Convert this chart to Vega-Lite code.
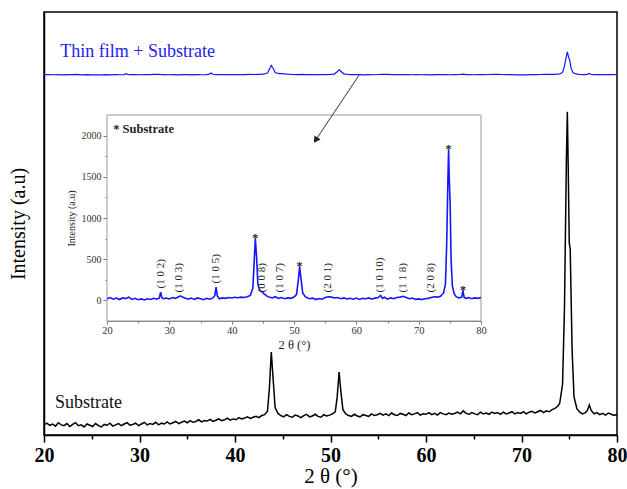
{
  "$schema": "https://vega.github.io/schema/vega-lite/v6.json",
  "width": 573,
  "height": 423,
  "autosize": "none",
  "padding": {"left": 44, "top": 12, "right": 10, "bottom": 54},
  "background": "white",
  "config": {
    "view": {"stroke": "black", "strokeWidth": 1.5},
    "axis": {"grid": false, "labelFont": "Liberation Serif", "titleFont": "Liberation Serif", "labelFlush": false},
    "text": {"font": "Liberation Serif"}
  },
  "datasets": {
    "film": [
      {"t":20.0,"i":20},{"t":20.5,"i":35},{"t":21.0,"i":15},{"t":21.5,"i":28},{"t":22.0,"i":10},{"t":22.5,"i":30},{"t":23.0,"i":22},{"t":23.5,"i":40},{"t":24.0,"i":12},{"t":24.5,"i":25},
      {"t":25.0,"i":8},{"t":25.5,"i":18},{"t":26.0,"i":5},{"t":26.5,"i":20},{"t":27.0,"i":12},{"t":27.5,"i":25},{"t":28.0,"i":15},{"t":28.4,"i":30},{"t":28.6,"i":100},{"t":28.8,"i":35},
      {"t":29.0,"i":20},{"t":29.5,"i":28},{"t":30.0,"i":18},{"t":30.5,"i":35},{"t":31.0,"i":25},{"t":31.5,"i":45},{"t":31.8,"i":55},{"t":32.1,"i":40},{"t":32.5,"i":30},{"t":33.0,"i":15},
      {"t":33.5,"i":28},{"t":34.0,"i":12},{"t":34.5,"i":30},{"t":35.0,"i":20},{"t":35.5,"i":8},{"t":36.0,"i":25},{"t":36.5,"i":15},{"t":37.0,"i":30},{"t":37.3,"i":60},{"t":37.5,"i":160},
      {"t":37.7,"i":55},{"t":38.0,"i":20},{"t":38.5,"i":30},{"t":39.0,"i":25},{"t":39.5,"i":35},{"t":40.0,"i":30},{"t":40.5,"i":38},{"t":41.0,"i":32},{"t":41.5,"i":40},{"t":42.0,"i":35},
      {"t":42.5,"i":45},{"t":43.0,"i":60},{"t":43.4,"i":150},{"t":43.6,"i":450},{"t":43.8,"i":750},{"t":44.0,"i":520},{"t":44.2,"i":200},{"t":44.5,"i":120},{"t":44.8,"i":110},{"t":45.2,"i":80},
      {"t":45.6,"i":55},{"t":46.0,"i":40},{"t":46.5,"i":30},{"t":47.0,"i":45},{"t":47.5,"i":25},{"t":48.0,"i":35},{"t":48.5,"i":20},{"t":49.0,"i":30},{"t":49.5,"i":25},{"t":50.0,"i":40},
      {"t":50.4,"i":70},{"t":50.7,"i":250},{"t":50.9,"i":410},{"t":51.1,"i":280},{"t":51.4,"i":90},{"t":51.8,"i":45},{"t":52.2,"i":30},{"t":52.5,"i":20},{"t":53.0,"i":28},{"t":53.5,"i":10},
      {"t":54.0,"i":22},{"t":54.5,"i":15},{"t":55.0,"i":35},{"t":55.5,"i":45},{"t":56.0,"i":40},{"t":56.5,"i":30},{"t":57.0,"i":35},{"t":57.5,"i":20},{"t":58.0,"i":30},{"t":58.5,"i":18},
      {"t":59.0,"i":25},{"t":59.5,"i":15},{"t":60.0,"i":28},{"t":60.5,"i":12},{"t":61.0,"i":25},{"t":61.5,"i":20},{"t":62.0,"i":30},{"t":62.5,"i":15},{"t":63.0,"i":28},{"t":63.5,"i":35},
      {"t":63.9,"i":60},{"t":64.2,"i":25},{"t":64.5,"i":38},{"t":65.0,"i":15},{"t":65.5,"i":30},{"t":66.0,"i":20},{"t":66.5,"i":35},{"t":67.0,"i":40},{"t":67.5,"i":50},{"t":68.0,"i":35},
      {"t":68.5,"i":20},{"t":69.0,"i":28},{"t":69.5,"i":12},{"t":70.0,"i":18},{"t":70.5,"i":10},{"t":71.0,"i":20},{"t":71.5,"i":25},{"t":72.0,"i":35},{"t":72.5,"i":45},{"t":73.0,"i":40},
      {"t":73.5,"i":50},{"t":74.0,"i":90},{"t":74.3,"i":200},{"t":74.5,"i":700},{"t":74.7,"i":1500},{"t":74.8,"i":1830},{"t":74.9,"i":1500},{"t":75.05,"i":1170},{"t":75.2,"i":500},{"t":75.4,"i":180},
      {"t":75.7,"i":80},{"t":76.0,"i":45},{"t":76.5,"i":30},{"t":76.9,"i":40},{"t":77.1,"i":120},{"t":77.3,"i":35},{"t":77.7,"i":25},{"t":78.0,"i":35},{"t":78.5,"i":20},{"t":79.0,"i":30},
      {"t":79.5,"i":25},{"t":80.0,"i":35}
    ],
    "sub": [
      {"t":20.0,"v":2.4},{"t":20.3,"v":2.8},{"t":20.6,"v":2.3},{"t":20.9,"v":2.6},{"t":21.2,"v":2.1},{"t":21.5,"v":2.9},{"t":21.8,"v":2.4},{"t":22.1,"v":2.2},{"t":22.4,"v":2.7},{"t":22.7,"v":2.0},
      {"t":23.0,"v":2.5},{"t":23.3,"v":2.9},{"t":23.6,"v":2.2},{"t":23.9,"v":2.4},{"t":24.2,"v":1.9},{"t":24.5,"v":2.6},{"t":24.8,"v":2.3},{"t":25.1,"v":2.0},{"t":25.4,"v":2.7},{"t":25.7,"v":2.2},
      {"t":26.0,"v":1.9},{"t":26.3,"v":2.5},{"t":26.6,"v":2.3},{"t":26.9,"v":2.8},{"t":27.2,"v":2.1},{"t":27.5,"v":2.4},{"t":27.8,"v":2.7},{"t":28.1,"v":2.2},{"t":28.4,"v":2.6},{"t":28.7,"v":2.9},
      {"t":29.0,"v":2.3},{"t":29.3,"v":2.5},{"t":29.6,"v":2.8},{"t":29.9,"v":2.2},{"t":30.2,"v":2.6},{"t":30.5,"v":3.0},{"t":30.8,"v":2.4},{"t":31.1,"v":2.7},{"t":31.4,"v":2.5},{"t":31.7,"v":3.0},
      {"t":32.0,"v":2.4},{"t":32.3,"v":2.8},{"t":32.6,"v":2.6},{"t":32.9,"v":3.1},{"t":33.2,"v":2.6},{"t":33.5,"v":2.9},{"t":33.8,"v":3.2},{"t":34.1,"v":2.7},{"t":34.4,"v":3.0},{"t":34.7,"v":3.3},
      {"t":35.0,"v":2.9},{"t":35.3,"v":3.4},{"t":35.6,"v":3.0},{"t":35.9,"v":3.2},{"t":36.2,"v":3.6},{"t":36.5,"v":3.1},{"t":36.8,"v":3.4},{"t":37.1,"v":3.3},{"t":37.4,"v":3.7},{"t":37.7,"v":3.2},
      {"t":38.0,"v":3.5},{"t":38.3,"v":3.8},{"t":38.6,"v":3.4},{"t":38.9,"v":3.6},{"t":39.2,"v":4.0},{"t":39.5,"v":3.5},{"t":39.8,"v":3.8},{"t":40.1,"v":3.6},{"t":40.4,"v":4.1},{"t":40.7,"v":3.8},
      {"t":41.0,"v":4.0},{"t":41.3,"v":4.3},{"t":41.6,"v":3.9},{"t":41.9,"v":4.2},{"t":42.2,"v":4.4},{"t":42.5,"v":4.1},{"t":42.8,"v":4.6},{"t":43.1,"v":4.8},{"t":43.4,"v":5.6},{"t":43.6,"v":11},
      {"t":43.8,"v":19.6},{"t":44.0,"v":13},{"t":44.2,"v":6.5},{"t":44.5,"v":5.1},{"t":44.8,"v":4.6},{"t":45.1,"v":4.3},{"t":45.4,"v":4.8},{"t":45.7,"v":4.4},{"t":46.0,"v":4.2},{"t":46.3,"v":4.7},
      {"t":46.6,"v":4.5},{"t":46.9,"v":4.1},{"t":47.2,"v":4.6},{"t":47.5,"v":4.9},{"t":47.8,"v":4.3},{"t":48.1,"v":4.5},{"t":48.4,"v":4.9},{"t":48.7,"v":4.4},{"t":49.0,"v":4.2},{"t":49.3,"v":4.8},
      {"t":49.6,"v":4.5},{"t":49.9,"v":4.7},{"t":50.2,"v":5.0},{"t":50.5,"v":5.5},{"t":50.7,"v":9},{"t":50.9,"v":14.9},{"t":51.1,"v":10},{"t":51.3,"v":6},{"t":51.6,"v":5.0},{"t":51.9,"v":4.6},
      {"t":52.2,"v":4.4},{"t":52.5,"v":4.9},{"t":52.8,"v":4.5},{"t":53.1,"v":4.3},{"t":53.4,"v":4.8},{"t":53.7,"v":4.6},{"t":54.0,"v":4.4},{"t":54.3,"v":5.0},{"t":54.6,"v":4.6},{"t":54.9,"v":4.8},
      {"t":55.2,"v":5.1},{"t":55.5,"v":4.7},{"t":55.8,"v":5.0},{"t":56.1,"v":4.6},{"t":56.4,"v":5.2},{"t":56.7,"v":4.8},{"t":57.0,"v":4.6},{"t":57.3,"v":5.1},{"t":57.6,"v":4.9},{"t":57.9,"v":4.6},
      {"t":58.2,"v":5.2},{"t":58.5,"v":4.8},{"t":58.8,"v":5.0},{"t":59.1,"v":5.3},{"t":59.4,"v":4.7},{"t":59.7,"v":5.0},{"t":60.0,"v":4.9},{"t":60.3,"v":5.3},{"t":60.6,"v":4.8},{"t":60.9,"v":5.1},
      {"t":61.2,"v":4.7},{"t":61.5,"v":5.3},{"t":61.8,"v":5.0},{"t":62.1,"v":4.8},{"t":62.4,"v":5.2},{"t":62.7,"v":4.9},{"t":63.0,"v":5.1},{"t":63.3,"v":5.4},{"t":63.6,"v":5.0},{"t":63.9,"v":5.7},
      {"t":64.2,"v":5.1},{"t":64.5,"v":4.9},{"t":64.8,"v":5.3},{"t":65.1,"v":5.0},{"t":65.4,"v":4.8},{"t":65.7,"v":5.4},{"t":66.0,"v":5.0},{"t":66.3,"v":5.2},{"t":66.6,"v":4.9},{"t":66.9,"v":5.4},
      {"t":67.2,"v":5.1},{"t":67.5,"v":5.3},{"t":67.8,"v":4.9},{"t":68.1,"v":5.4},{"t":68.4,"v":5.0},{"t":68.7,"v":5.2},{"t":69.0,"v":5.5},{"t":69.3,"v":5.0},{"t":69.6,"v":5.3},{"t":69.9,"v":5.1},
      {"t":70.2,"v":5.5},{"t":70.5,"v":5.0},{"t":70.8,"v":5.4},{"t":71.1,"v":5.6},{"t":71.4,"v":5.2},{"t":71.7,"v":5.5},{"t":72.0,"v":5.8},{"t":72.3,"v":5.3},{"t":72.6,"v":5.7},{"t":72.9,"v":5.5},
      {"t":73.2,"v":6.0},{"t":73.5,"v":6.3},{"t":73.8,"v":6.8},{"t":74.0,"v":7.5},{"t":74.3,"v":12},{"t":74.5,"v":30},{"t":74.7,"v":65},{"t":74.8,"v":76.4},{"t":74.9,"v":62},{"t":75.0,"v":45.4},
      {"t":75.1,"v":44},{"t":75.3,"v":20},{"t":75.5,"v":9},{"t":75.8,"v":6.2},{"t":76.1,"v":5.4},{"t":76.4,"v":5.0},{"t":76.7,"v":5.3},{"t":76.9,"v":5.8},{"t":77.1,"v":7.1},{"t":77.3,"v":5.8},
      {"t":77.6,"v":5.0},{"t":77.9,"v":5.3},{"t":78.2,"v":4.8},{"t":78.5,"v":5.1},{"t":78.8,"v":4.7},{"t":79.1,"v":5.2},{"t":79.4,"v":4.9},{"t":79.7,"v":4.6},{"t":80.0,"v":4.9}
    ]
  },
  "layer": [
    {
      "layer": [
        {
          "data": {"values": [{"x1": 20, "x2": 80, "y1": -250, "y2": 2250}]},
          "mark": {"type": "rect", "fill": "white", "stroke": "#999999", "strokeWidth": 1},
          "encoding": {
            "x": {"field": "x1", "type": "quantitative", "scale": {"domain": [20, 80], "range": [63, 437], "nice": false, "zero": false},
              "axis": {"orient": "bottom", "offset": -114, "values": [20, 30, 40, 50, 60, 70, 80], "labelFontSize": 10.5, "labelColor": "#333333", "tickSize": 3, "tickColor": "#777777", "domainColor": "#777777", "labelPadding": 1, "title": "2 θ (°)", "titleFontSize": 12.5, "titleFontWeight": "normal", "titleColor": "#222222", "titlePadding": 3}},
            "x2": {"field": "x2"},
            "y": {"field": "y1", "type": "quantitative", "scale": {"domain": [-250, 2250], "range": [309, 103], "nice": false, "zero": false},
              "axis": {"orient": "left", "offset": -63, "values": [0, 500, 1000, 1500, 2000], "format": "d", "labelFontSize": 10, "labelColor": "#333333", "tickSize": 4, "tickColor": "#777777", "domainColor": "#777777", "labelPadding": 2, "title": "Intensity (a.u)", "titleFontSize": 10, "titleFontWeight": "normal", "titleColor": "#222222", "titlePadding": 5}},
            "y2": {"field": "y2"}
          }
        },
        {
          "data": {"name": "film"},
          "mark": {"type": "line", "color": "#1515ff", "strokeWidth": 1.6},
          "encoding": {
            "x": {"field": "t", "type": "quantitative"},
            "y": {"field": "i", "type": "quantitative"}
          }
        },
        {
          "data": {"values": [
            {"t": 28.6, "y": 145, "lab": "(1 0 2)"},
            {"t": 31.6, "y": 97, "lab": "(1 0 3)"},
            {"t": 37.5, "y": 206, "lab": "(1 0 5)"},
            {"t": 44.9, "y": 97, "lab": "(0 0 8)"},
            {"t": 47.8, "y": 97, "lab": "(1 0 7)"},
            {"t": 55.5, "y": 97, "lab": "(2 0 1)"},
            {"t": 63.8, "y": 97, "lab": "(1 0 10)"},
            {"t": 67.5, "y": 97, "lab": "(1 1 8)"},
            {"t": 72.0, "y": 97, "lab": "(2 0 8)"}
          ]},
          "mark": {"type": "text", "angle": 270, "align": "left", "baseline": "middle", "fontSize": 11, "color": "#222222"},
          "encoding": {
            "x": {"field": "t", "type": "quantitative"},
            "y": {"field": "y", "type": "quantitative"},
            "text": {"field": "lab"}
          }
        },
        {
          "data": {"values": [{"t": 21.0, "y": 2082, "lab": "* Substrate"}]},
          "mark": {"type": "text", "align": "left", "baseline": "middle", "fontSize": 12.5, "fontWeight": "bold", "color": "#222222"},
          "encoding": {
            "x": {"field": "t", "type": "quantitative"},
            "y": {"field": "y", "type": "quantitative"},
            "text": {"field": "lab"}
          }
        }
      ]
    },
    {
      "data": {"values": [
        {"t": 43.8, "y": 790, "lab": "*"},
        {"t": 50.9, "y": 450, "lab": "*"},
        {"t": 74.8, "y": 1870, "lab": "*"},
        {"t": 77.1, "y": 160, "lab": "*"}
      ]},
      "mark": {"type": "text", "align": "center", "baseline": "middle", "dy": 3, "fontSize": 12, "fontWeight": "bold", "color": "#222222"},
      "encoding": {
        "x": {"field": "t", "type": "quantitative", "scale": {"domain": [20, 80], "range": [63, 437], "nice": false, "zero": false},
          "axis": {"orient": "bottom", "offset": -114, "values": [25, 35, 45, 55, 65, 75], "labels": false, "domain": false, "tickSize": 2, "tickColor": "#777777", "title": null}},
        "y": {"field": "y", "type": "quantitative", "scale": {"domain": [-250, 2250], "range": [309, 103], "nice": false, "zero": false},
          "axis": {"orient": "left", "offset": -63, "values": [250, 750, 1250, 1750], "labels": false, "domain": false, "tickSize": 2, "tickColor": "#777777", "title": null}},
        "text": {"field": "lab"}
      }
    },
    {
      "data": {"name": "film"},
      "mark": {"type": "line", "color": "#1515ff", "strokeWidth": 1.2},
      "encoding": {
        "x": {"field": "t", "type": "quantitative", "scale": {"domain": [20, 80], "nice": false, "zero": false},
          "axis": {"orient": "bottom", "values": [25, 35, 45, 55, 65, 75], "labels": false, "domain": false, "tickSize": 4, "tickColor": "black", "tickWidth": 1.5, "title": null}},
        "y": {"field": "i", "type": "quantitative", "scale": {"domain": [-250, 2250], "range": [66.1, 34.7], "nice": false, "zero": false}, "axis": null}
      }
    },
    {
      "layer": [
        {
          "data": {"name": "sub"},
          "mark": {"type": "line", "color": "black", "strokeWidth": 1.5},
          "encoding": {
            "x": {"field": "t", "type": "quantitative", "scale": {"domain": [20, 80], "nice": false, "zero": false},
              "axis": {"orient": "bottom", "values": [20, 30, 40, 50, 60, 70, 80], "labelFontSize": 20, "labelFontWeight": "bold", "labelColor": "black", "tickSize": 7, "tickColor": "black", "tickWidth": 1.5, "domainColor": "black", "domainWidth": 1.5, "labelPadding": 3, "title": "2 θ (°)", "titleFontSize": 21, "titleFontWeight": "normal", "titleColor": "black", "titlePadding": 0}},
            "y": {"field": "v", "type": "quantitative", "scale": {"domain": [0, 100], "nice": false, "zero": false},
              "axis": {"orient": "left", "labels": false, "ticks": false, "domainColor": "black", "domainWidth": 1.5, "title": "Intensity (a.u)", "titleFontSize": 20, "titleFontWeight": "normal", "titleColor": "black", "titlePadding": 16}}
          }
        },
        {
          "data": {"values": [
            {"t": 21.7, "v": 90.5, "lab": "Thin film + Substrate", "c": "blue"},
            {"t": 21.15, "v": 7.6, "lab": "Substrate", "c": "black"}
          ]},
          "mark": {"type": "text", "align": "left", "baseline": "middle", "fontSize": 18},
          "encoding": {
            "x": {"field": "t", "type": "quantitative"},
            "y": {"field": "v", "type": "quantitative"},
            "text": {"field": "lab"},
            "color": {"field": "c", "type": "nominal", "scale": {"domain": ["blue", "black"], "range": ["#2222ee", "#111111"]}, "legend": null}
          }
        },
        {
          "data": {"values": [{"t": 53.0, "v": 85.1, "t2": 48.5, "v2": 69.9}]},
          "mark": {"type": "rule", "color": "#333333", "strokeWidth": 1},
          "encoding": {
            "x": {"field": "t", "type": "quantitative"},
            "y": {"field": "v", "type": "quantitative"},
            "x2": {"field": "t2"},
            "y2": {"field": "v2"}
          }
        },
        {
          "data": {"values": [{"t": 48.45, "v": 69.7}]},
          "mark": {"type": "point", "shape": "triangle-up", "angle": 214, "size": 55, "filled": true, "color": "#222222", "opacity": 1},
          "encoding": {
            "x": {"field": "t", "type": "quantitative"},
            "y": {"field": "v", "type": "quantitative"}
          }
        }
      ]
    }
  ],
  "resolve": {"scale": {"x": "independent", "y": "independent"}, "axis": {"x": "independent", "y": "independent"}}
}
